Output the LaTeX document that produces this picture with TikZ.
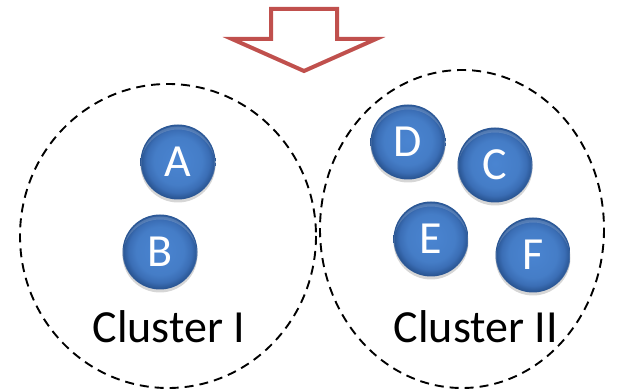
\documentclass[tikz,border=0pt]{standalone}
\usepackage{fontspec}
\setmainfont{Carlito}
\usetikzlibrary{shadows}

% flat bevelled blue disc: bright centre, darker rim
\pgfdeclareradialshading{bluedisc}{\pgfpoint{0bp}{1bp}}{%
  rgb(0bp)=(0.29,0.52,0.82);
  rgb(16bp)=(0.27,0.49,0.78);
  rgb(21bp)=(0.23,0.43,0.71);
  rgb(25bp)=(0.16,0.33,0.57);
  rgb(50bp)=(0.16,0.33,0.57)}

\definecolor{arrowred}{RGB}{192,80,77}

\tikzset{
  bigtext/.style={font=\fontsize{46}{50}\selectfont},
  ball/.style={circle, minimum size=75pt, inner sep=0pt, bigtext, text=white,
    shading=bluedisc,
    drop shadow={shadow xshift=0pt, shadow yshift=-3pt, opacity=0.16, fill=black},
    path picture={
      \fill[white, opacity=0.16, even odd rule]
        ([yshift=-1pt]path picture bounding box.center) circle (36.5pt)
        ([yshift=-5pt]path picture bounding box.center) circle (37.5pt);
    }},
  cluster/.style={draw=black, line width=1.9pt, dash pattern=on 9pt off 6pt},
  bigarrow/.style={draw=arrowred, line width=4pt, fill=white, line join=miter}
}

\begin{document}
\begin{tikzpicture}[x=1pt, y=-1pt]
  \useasboundingbox (0,0) rectangle (625,390);

  % downward block arrow
  \path[bigarrow] (271,9) -- (337,9) -- (337,39) -- (376,39) -- (304,71)
    -- (232,39) -- (271,39) -- cycle;

  % the two clusters
  \draw[cluster] (168,236) ellipse [x radius=148, y radius=152];
  \draw[cluster] (462,229) ellipse [x radius=142, y radius=159];

  % members of cluster I
  \node[ball] (A) at (178,162) {A};
  \node[ball] (B) at (160,252) {B};

  % members of cluster II
  \node[ball] (D) at (408,142) {D};
  \node[ball] (C) at (495,165) {C};
  \node[ball] (E) at (431,239) {E};
  \node[ball] (F) at (533,255) {F};

  % cluster names
  \node[bigtext, anchor=base] (l1) at (169,343) {Cluster I};
  \node[bigtext, anchor=base] (l2) at (476,343) {Cluster II};
\end{tikzpicture}
\end{document}
